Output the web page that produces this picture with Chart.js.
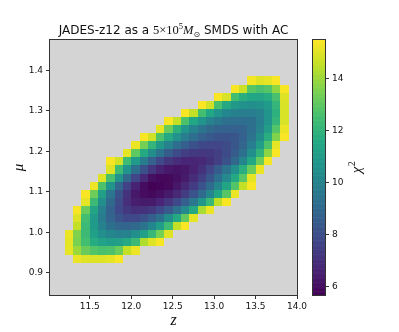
<!DOCTYPE html>
<html><head><meta charset="utf-8">
<script src="https://cdn.jsdelivr.net/npm/chart.js@4"></script>
<style>
html,body{margin:0;padding:0;background:#fff;}
#wrap{position:relative;width:399px;height:332px;overflow:hidden;}
#main{position:absolute;left:0;top:0;}
#cb{position:absolute;left:300px;top:0;}
</style></head><body>
<div id="wrap"><canvas id="main" width="399" height="332"></canvas><canvas id="cb" width="99" height="332"></canvas></div>
<script>
const _ = null;
// column centres (redshift z) and row centres (magnification mu)
const zCenters = [11.25,11.35,11.45,11.55,11.65,11.75,11.85,11.95,12.05,12.15,12.25,12.35,12.45,12.55,12.65,12.75,12.85,12.95,13.05,13.15,13.25,13.35,13.45,13.55,13.65,13.75,13.85];
const muCenters = [0.935,0.955,0.975,0.995,1.015,1.035,1.055,1.075,1.095,1.115,1.135,1.155,1.175,1.195,1.215,1.235,1.255,1.275,1.295,1.315,1.335,1.355,1.375];
// chi^2 values (null = masked, above colour range)
const chi2 = [
[_,15.2,15.0,15.0,15.0,15.1,15.4,_,_,_,_,_,_,_,_,_,_,_,_,_,_,_,_,_,_,_,_],
[15.1,14.0,13.2,12.8,12.6,12.7,13.2,14.6,15.2,_,_,_,_,_,_,_,_,_,_,_,_,_,_,_,_,_,_],
[15.1,13.5,12.5,11.7,11.3,11.1,11.2,11.6,12.3,14.3,15.0,15.4,_,_,_,_,_,_,_,_,_,_,_,_,_,_,_],
[15.2,13.6,12.3,11.2,10.5,10.1,9.9,10.0,10.5,11.2,12.2,13.4,15.0,_,_,_,_,_,_,_,_,_,_,_,_,_,_],
[_,14.6,12.3,11.0,10.0,9.3,8.9,8.8,9.0,9.4,10.2,11.1,12.4,14.6,15.4,_,_,_,_,_,_,_,_,_,_,_,_],
[_,15.0,12.5,11.0,9.7,8.8,8.2,7.8,7.8,8.1,8.6,9.3,10.4,11.6,13.1,15.1,_,_,_,_,_,_,_,_,_,_,_],
[_,15.4,13.2,11.4,9.9,8.7,7.8,7.3,7.0,7.1,7.3,7.8,8.4,9.3,10.3,11.6,14.2,15.2,_,_,_,_,_,_,_,_,_],
[_,_,15.1,12.3,10.5,9.0,7.9,7.0,6.5,6.4,6.4,6.7,7.2,7.8,8.6,9.6,10.8,12.2,14.5,15.4,_,_,_,_,_,_,_],
[_,_,15.4,13.3,11.2,9.5,8.1,7.1,6.3,6.0,5.9,6.1,6.4,6.8,7.4,8.2,9.1,10.2,11.5,12.9,15.2,_,_,_,_,_,_],
[_,_,_,15.2,12.7,10.7,8.9,7.6,6.6,6.0,5.7,5.8,5.9,6.3,6.8,7.4,8.2,9.1,10.2,11.4,12.8,14.6,15.4,_,_,_,_],
[_,_,_,_,15.0,12.6,10.7,9.0,7.7,6.8,6.1,5.9,5.9,6.1,6.4,6.9,7.5,8.3,9.2,10.3,11.6,12.9,15.1,_,_,_,_],
[_,_,_,_,_,15.0,12.4,10.7,9.3,8.1,7.2,6.6,6.3,6.2,6.3,6.6,7.1,7.7,8.5,9.4,10.5,11.8,13.2,15.2,_,_,_],
[_,_,_,_,_,15.4,14.8,12.4,11.0,9.7,8.7,7.8,7.2,6.9,6.7,6.7,6.8,7.1,7.5,8.1,9.0,10.1,11.5,13.2,15.3,_,_],
[_,_,_,_,_,_,_,15.1,13.0,11.6,10.4,9.4,8.5,7.9,7.5,7.3,7.2,7.3,7.5,7.9,8.5,9.3,10.5,12.0,13.8,15.4,_],
[_,_,_,_,_,_,_,_,15.2,13.4,12.1,10.9,10.0,9.2,8.6,8.1,7.8,7.7,7.7,7.9,8.3,8.9,9.8,11.1,12.7,15.1,_],
[_,_,_,_,_,_,_,_,_,15.4,14.8,12.7,11.6,10.6,9.8,9.2,8.7,8.4,8.2,8.2,8.3,8.7,9.4,10.4,11.8,13.6,15.4],
[_,_,_,_,_,_,_,_,_,_,_,15.1,13.2,11.9,10.8,10.0,9.4,9.0,8.8,8.7,8.7,8.8,9.2,10.0,11.1,12.8,15.2],
[_,_,_,_,_,_,_,_,_,_,_,_,15.4,14.6,12.7,11.5,10.7,10.0,9.6,9.3,9.2,9.2,9.3,9.8,10.7,12.1,14.9],
[_,_,_,_,_,_,_,_,_,_,_,_,_,_,15.4,14.6,12.5,11.5,10.7,10.2,9.9,9.8,9.8,10.0,10.7,11.9,14.9],
[_,_,_,_,_,_,_,_,_,_,_,_,_,_,_,_,15.4,14.8,12.6,11.6,10.9,10.6,10.5,10.6,11.0,12.1,14.9],
[_,_,_,_,_,_,_,_,_,_,_,_,_,_,_,_,_,_,15.4,14.9,12.5,11.8,11.5,11.4,11.7,12.6,15.0],
[_,_,_,_,_,_,_,_,_,_,_,_,_,_,_,_,_,_,_,_,15.4,14.7,12.9,12.6,12.8,13.8,15.4],
[_,_,_,_,_,_,_,_,_,_,_,_,_,_,_,_,_,_,_,_,_,_,15.3,15.0,15.1,15.4,_]
];
const zTicks = [11.5,12.0,12.5,13.0,13.5,14.0];
const muTicks = [0.9,1.0,1.1,1.2,1.3,1.4];
const cbTicks = [6,8,10,12,14];
const zRange = [11.02,14.0];
const muRange = [0.845,1.475];
const cbRange = [5.68,15.47];

const VIRIDIS = [[68,1,84],[72,36,117],[65,68,135],[53,95,141],[42,120,142],[33,145,140],[34,168,132],[68,191,112],[122,209,81],[189,223,38],[253,231,37]];
function viridis(t){
  t = Math.max(0, Math.min(1, t));
  const s = t*10, i = Math.min(9, Math.floor(s)), f = s - i;
  const a = VIRIDIS[i], b = VIRIDIS[i+1];
  return 'rgb(' + [0,1,2].map(k => Math.round(a[k] + (b[k]-a[k])*f)).join(',') + ')';
}
const MASK = '#d4d4d4';
const INK = '#111';
const TICKFONT = {family:'DejaVu Sans', size:9};

function fixedTicks(list){ return s => { s.ticks = list.map(v => ({value:v})); }; }

const heatPlugin = {
  id:'heat',
  beforeDatasetsDraw(chart){
    const {ctx, chartArea:a, scales:{x, y}} = chart;
    ctx.save();
    ctx.beginPath(); ctx.rect(a.left, a.top, a.right-a.left, a.bottom-a.top); ctx.clip();
    ctx.fillStyle = MASK; ctx.fillRect(a.left, a.top, a.right-a.left, a.bottom-a.top);
    const dz = zCenters[1]-zCenters[0], dm = muCenters[1]-muCenters[0];
    chi2.forEach((row, j) => {
      const mu = muCenters[j];
      const y0 = Math.round(y.getPixelForValue(mu + dm/2)), y1 = Math.round(y.getPixelForValue(mu - dm/2));
      row.forEach((v, i) => {
        if (v === null) return;
        const z = zCenters[i];
        const x0 = Math.round(x.getPixelForValue(z - dz/2)), x1 = Math.round(x.getPixelForValue(z + dz/2));
        ctx.fillStyle = viridis((v - cbRange[0])/(cbRange[1]-cbRange[0]));
        ctx.fillRect(x0, y0, x1-x0, y1-y0);
      });
    });
    ctx.restore();
  },
  afterDraw(chart){
    const {ctx, chartArea:a} = chart;
    ctx.save();
    ctx.strokeStyle = '#333'; ctx.lineWidth = 1;
    ctx.strokeRect(Math.round(a.left)-0.5, Math.round(a.top)-0.5, Math.round(a.right-a.left)+1, Math.round(a.bottom-a.top)+1);
    // title with math part
    const parts = [
      {t:'JADES-z12 as a ', f:'12px "DejaVu Sans"', dy:0},
      {t:'5\u00d710', f:'12.5px "Liberation Serif"', dy:0},
      {t:'5', f:'8.5px "Liberation Serif"', dy:-5},
      {t:'M', f:'italic 12.5px "Liberation Serif"', dy:0},
      {t:'\u2299', f:'8px "DejaVu Sans"', dy:2.5},
      {t:' SMDS with AC', f:'12px "DejaVu Sans"', dy:0}
    ];
    let w = 0;
    parts.forEach(p => { ctx.font = p.f; p.w = ctx.measureText(p.t).width; w += p.w; });
    let xx = (a.left + a.right)/2 - w/2;
    ctx.fillStyle = INK; ctx.textBaseline = 'alphabetic'; ctx.textAlign = 'left';
    parts.forEach(p => { ctx.font = p.f; ctx.fillText(p.t, xx, 34 + p.dy); xx += p.w; });
    // axis labels
    ctx.textAlign = 'center'; ctx.textBaseline = 'middle';
    ctx.font = 'italic 16px "Liberation Serif"';
    ctx.fillText('z', (a.left + a.right)/2, 321);
    ctx.translate(19, (a.top + a.bottom)/2);
    ctx.rotate(-Math.PI/2);
    ctx.font = 'italic 15px "Liberation Serif"';
    ctx.fillText('\u03bc', 0, 0);
    ctx.restore();
  }
};

new Chart(document.getElementById('main'), {
  type:'scatter',
  data:{datasets:[{data:[]}]},
  options:{
    responsive:false, animation:false, devicePixelRatio:1,
    layout:{padding:{left:0, right:102, top:40, bottom:0}},
    plugins:{legend:{display:false}, tooltip:{enabled:false}, title:{display:false}},
    scales:{
      x:{type:'linear', min:zRange[0], max:zRange[1], afterBuildTicks:fixedTicks(zTicks),
         afterFit:s => { s.height = 37; },
         ticks:{font:TICKFONT, color:INK, padding:2, maxRotation:0, autoSkip:false, callback:v => Number(v).toFixed(1)},
         grid:{drawOnChartArea:false, drawTicks:true, tickLength:4, color:'#333', lineWidth:1},
         border:{display:false}},
      y:{type:'linear', min:muRange[0], max:muRange[1], afterBuildTicks:fixedTicks(muTicks),
         afterFit:s => { s.width = 50; },
         ticks:{font:TICKFONT, color:INK, padding:3, autoSkip:false, callback:v => Number(v).toFixed(1)},
         grid:{drawOnChartArea:false, drawTicks:true, tickLength:4, color:'#333', lineWidth:1},
         border:{display:false}}
    }
  },
  plugins:[heatPlugin]
});

const cbPlugin = {
  id:'cbar',
  beforeDatasetsDraw(chart){
    const {ctx, chartArea:a, scales:{y}} = chart;
    ctx.save();
    const n = 200;
    for (let k = 0; k < n; k++){
      const v0 = cbRange[0] + (cbRange[1]-cbRange[0])*k/n;
      const v1 = cbRange[0] + (cbRange[1]-cbRange[0])*(k+1)/n;
      const p0 = y.getPixelForValue(v0), p1 = y.getPixelForValue(v1);
      ctx.fillStyle = viridis((k+0.5)/n);
      ctx.fillRect(a.left, p1, a.right-a.left, p0-p1+0.6);
    }
    ctx.restore();
  },
  afterDraw(chart){
    const {ctx, chartArea:a} = chart;
    ctx.save();
    ctx.strokeStyle = '#333'; ctx.lineWidth = 1;
    ctx.strokeRect(Math.round(a.left)-0.5, Math.round(a.top)-0.5, Math.round(a.right-a.left)+1, Math.round(a.bottom-a.top)+1);
    ctx.fillStyle = INK;
    ctx.translate(57, (a.top + a.bottom)/2);
    ctx.rotate(-Math.PI/2);
    ctx.font = 'italic 15px "Liberation Serif"';
    const w1 = ctx.measureText('\u03c7').width;
    ctx.font = '10px "Liberation Serif"';
    const w2 = ctx.measureText('2').width;
    const x0 = -(w1 + w2)/2;
    ctx.textAlign = 'left'; ctx.textBaseline = 'alphabetic';
    ctx.font = 'italic 15px "Liberation Serif"';
    ctx.fillText('\u03c7', x0, 4);
    ctx.font = '10px "Liberation Serif"';
    ctx.fillText('2', x0 + w1 + 0.5, -2);
    ctx.restore();
  }
};

new Chart(document.getElementById('cb'), {
  type:'scatter',
  data:{datasets:[{data:[]}]},
  options:{
    responsive:false, animation:false, devicePixelRatio:1,
    layout:{padding:{left:13, right:34, top:40, bottom:37}},
    plugins:{legend:{display:false}, tooltip:{enabled:false}},
    scales:{
      x:{display:false, min:0, max:1},
      y:{position:'right', min:cbRange[0], max:cbRange[1], afterBuildTicks:fixedTicks(cbTicks),
         afterFit:s => { s.width = 40; },
         ticks:{font:TICKFONT, color:INK, padding:3, autoSkip:false, callback:v => String(v)},
         grid:{drawOnChartArea:false, drawTicks:true, tickLength:4, color:'#333', lineWidth:1},
         border:{display:false}}
    }
  },
  plugins:[cbPlugin]
});
</script>
</body></html>
